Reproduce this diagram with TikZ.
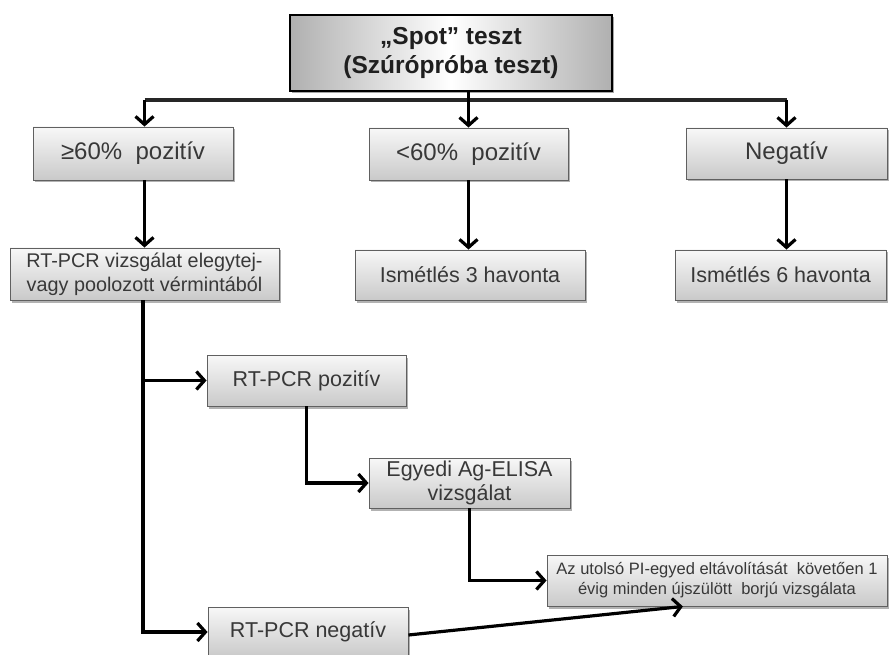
\documentclass[tikz,border=0pt]{standalone}
\usepackage{fontspec}
\setmainfont{Liberation Sans}
\usetikzlibrary{arrows.meta,shadows,calc}
\begin{document}
\begin{tikzpicture}[x=1pt,y=-1pt,
  box/.style={draw=gray!75!black, line width=0.9pt, top color=gray!6, bottom color=gray!42,
    inner sep=0pt, align=center, text=black!78, font=\fontsize{21.5}{24}\selectfont,
    drop shadow={shadow xshift=2pt,shadow yshift=-2.5pt,opacity=0.3,fill=black}},
  bigbox/.style={box, font=\fontsize{24}{28}\selectfont},
  topbox/.style={draw=black, line width=2.8pt, left color=gray!62, right color=gray!62, middle color=white,
    inner sep=0pt, align=center, text=black!88, font=\bfseries\fontsize{24.5}{29}\selectfont,
    drop shadow={shadow xshift=2pt,shadow yshift=-2.5pt,opacity=0.35,fill=black}},
  arr/.style={line width=3.2pt, -{Straight Barb[length=8pt,width=18pt]}},
  ln/.style={line width=3.4pt, draw=black!85}]
\useasboundingbox (0,0) rectangle (889,655);

% nodes
\node[topbox, minimum width=322pt, minimum height=76pt] (top) at (451,53) {„Spot” teszt\\(Szúrópróba teszt)};

\node[bigbox, minimum width=200pt, minimum height=53pt] (gt) at (133,153.5) {≥60\%\ \ pozitív};
\node[bigbox, minimum width=199pt, minimum height=52pt] (lt) at (468.5,154) {<60\%\ \ pozitív};
\node[bigbox, minimum width=201pt, minimum height=51pt] (neg) at (786.5,153.5) {Negatív};

\node[box, font=\fontsize{19.8}{24}\selectfont, minimum width=269pt, minimum height=52pt] (rt) at (144.5,274) {RT-PCR vizsgálat elegytej-\\vagy poolozott vérmintából};
\node[box, minimum width=230pt, minimum height=50pt] (is3) at (470,275) {Ismétlés 3 havonta};
\node[box, minimum width=211pt, minimum height=50pt] (is6) at (780.5,275) {Ismétlés 6 havonta};

\node[box, minimum width=199pt, minimum height=51pt] (pos) at (306.5,380.5) {RT-PCR pozitív};
\node[box, minimum width=201pt, minimum height=50pt] (elisa) at (469.5,483) {Egyedi Ag-ELISA\\vizsgálat};
\node[box, font=\fontsize{16.5}{20}\selectfont, minimum width=340pt, minimum height=51pt] (az) at (717,580.5) {Az utolsó PI-egyed eltávolítását\ \ követően 1\\évig minden újszülött\ \ borjú vizsgálata};
\node[box, minimum width=200pt, minimum height=50pt] (neg2) at (308,632) {RT-PCR negatív};

% connectors
\coordinate (bus) at (0,100);
\draw[ln] (bus -| rt.north) -- (bus -| neg.north);
\draw[arr] (top.south -| lt.north) -- (lt.north);
\draw[arr] (bus -| rt.north) -- (rt.north |- gt.north);
\draw[arr] (bus -| neg.north) -- (neg.north);

\draw[arr] (rt.north |- gt.south) -- (rt.north);
\draw[arr] (lt.south) -- (lt.south |- is3.north);
\draw[arr] (neg.south) -- (neg.south |- is6.north);

\draw[arr] ([xshift=-1.5pt]rt.south) |- (pos.west);
\draw[arr] ([xshift=-1.5pt]rt.south) |- (neg2.west);
\draw[arr] (pos.south) |- (elisa.west);
\draw[arr] (elisa.south) |- (az.west);
\draw[arr] ([yshift=-3pt]neg2.east) -- ($(az.south west)!0.4!(az.south east)$);
\end{tikzpicture}
\end{document}
